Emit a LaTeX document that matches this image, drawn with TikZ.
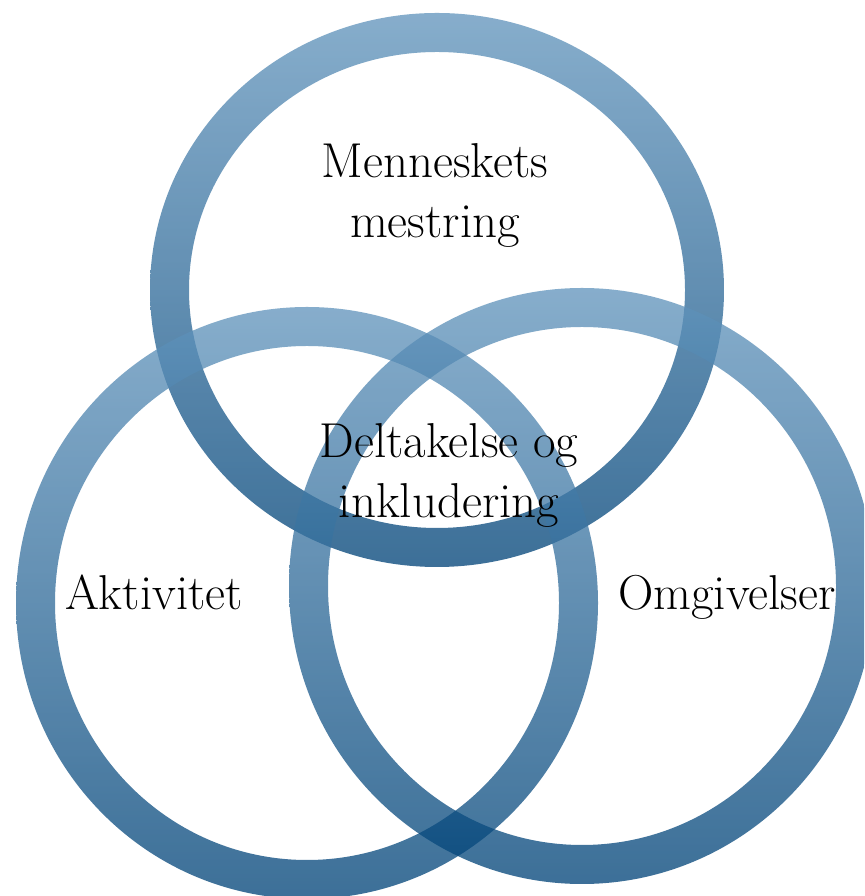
\documentclass[tikz,border=0pt]{standalone}
\usepackage{tikz}
\definecolor{ringtop}{RGB}{97,148,188}
\definecolor{ringbot}{RGB}{0,67,120}
\tikzset{
  ring/.style={top color=ringtop, bottom color=ringbot, fill opacity=0.76, even odd rule, draw=none},
  lbl/.style={font=\fontsize{49}{60}\selectfont, text=black, align=center, inner sep=0pt, anchor=base}
}
\begin{document}
\begin{tikzpicture}[x=1pt,y=1pt]
\useasboundingbox (0,0) rectangle (864,896);
\clip (0,0) rectangle (864,896);
\fill[white] (0,0) rectangle (864,896);
\coordinate (ct) at (437,606);
\coordinate (cl) at (307,293);
\coordinate (cr) at (582,310);
\shade[ring] (ct) ellipse [x radius=287, y radius=277] (ct) ellipse [x radius=248, y radius=238];
\shade[ring] (cl) ellipse [x radius=291, y radius=296] (cl) ellipse [x radius=252, y radius=257];
\shade[ring] (cr) ellipse [x radius=293, y radius=298] (cr) ellipse [x radius=254, y radius=259];
\node[lbl] (mm) at (435,658) {Menneskets\\mestring};
\node[lbl] (di) at (449,378) {Deltakelse og\\inkludering};
\node[lbl] (ak) at (154,286) {Aktivitet};
\node[lbl] (om) at (727,286) {Omgivelser};
\end{tikzpicture}
\end{document}
